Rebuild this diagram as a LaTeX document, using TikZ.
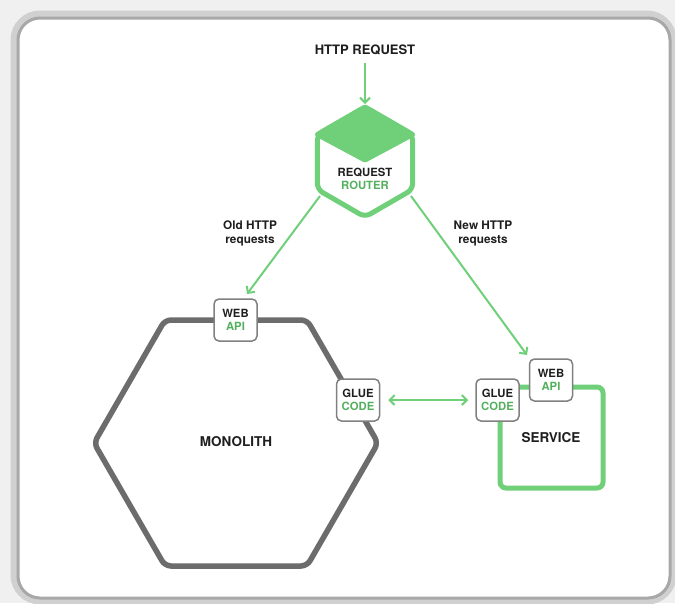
\documentclass[tikz,border=0pt]{standalone}
\usepackage{fontspec}
\setmainfont{TeX Gyre Heros}
\usetikzlibrary{arrows.meta}

\definecolor{linegreen}{RGB}{112,208,122}
\definecolor{textgreen}{RGB}{84,176,94}
\definecolor{hexgray}{RGB}{108,108,108}
\definecolor{boxgray}{RGB}{128,128,128}
\definecolor{ink}{RGB}{30,30,30}
\definecolor{outerbg}{RGB}{240,240,240}
\definecolor{rimlight}{RGB}{208,208,208}
\definecolor{rimdark}{RGB}{168,168,168}

\tikzset{
  lbl/.style={font=\bfseries\fontsize{#1}{#1}\selectfont, text=ink, align=center, inner sep=0pt},
  lbl/.default=11.5,
  twoline/.style={font=\bfseries\fontsize{11.8}{14}\selectfont, text=ink, align=center, inner sep=0pt},
  port/.style={draw=boxgray, line width=1.5pt, fill=white, rounded corners=5pt,
    minimum width=43pt, minimum height=42pt, inner sep=0pt, align=center,
    font=\bfseries\fontsize{11.3}{12.8}\selectfont, text=ink},
  flow/.style={draw=linegreen, line width=2pt, -{Straight Barb[length=5pt,width=10pt]}},
  biflow/.style={draw=linegreen, line width=2pt, {Straight Barb[length=5pt,width=10pt]}-{Straight Barb[length=5pt,width=10pt]}},
  hexline/.style={line width=5.5pt, line join=round, rounded corners=6pt},
}

\begin{document}
\begin{tikzpicture}[x=1pt,y=-1pt]
\useasboundingbox (0,0) rectangle (675,603);

% card and its rim
\fill[outerbg] (0,0) rectangle (675,603);
\draw[rimlight, line width=9pt, rounded corners=25pt] (15,15) rectangle (672,600);
\draw[rimdark, line width=3pt, fill=white, rounded corners=22pt] (18,18) rectangle (670,598);

% incoming request
\node[lbl=13] (req) at (365,50) {HTTP REQUEST};

% request router: pointy-top hexagon with a filled top face
\fill[linegreen, line join=round, draw=linegreen, line width=5pt]
  (365,107) -- (412.6,134.5) -- (365,160) -- (317.4,134.5) -- cycle;
\draw[linegreen, hexline, line width=5pt]
  (365,107) -- (412.6,134.5) -- (412.6,189.5) -- (365,217) -- (317.4,189.5) -- (317.4,134.5) -- cycle;
\node[font=\bfseries\fontsize{11.3}{13}\selectfont, text=ink, align=center, inner sep=0pt]
  (router) at (365,179) {REQUEST\\\textcolor{textgreen}{ROUTER}};
\coordinate (routerTop) at (365,104);
\coordinate (routerSW) at (320,196);
\coordinate (routerSE) at (411,196);

% monolith: flat-top hexagon
\draw[hexgray, hexline]
  (378,443) -- (307,320) -- (165,320) -- (94,443) -- (165,566) -- (307,566) -- cycle;
\node[lbl=13.5] (mono) at (236,442) {MONOLITH};

% new service
\draw[linegreen, line width=5pt, rounded corners=6pt] (500,387) rectangle (603,488);
\node[lbl=13.5] (svc) at (551,438) {SERVICE};

% ports
\node[port] (mweb)  at (235.5,320) {WEB\\\textcolor{textgreen}{API}};
\node[port] (mglue) at (358,400)   {GLUE\\\textcolor{textgreen}{CODE}};
\node[port] (sglue) at (497.5,400) {GLUE\\\textcolor{textgreen}{CODE}};
\node[port] (sweb)  at (551,380)   {WEB\\\textcolor{textgreen}{API}};

\coordinate (oldIn) at (247,294);
\coordinate (newIn) at (527,355);

% routes
\draw[flow] (req) ++(0,13) coordinate (reqOut) -- (routerTop);
\draw[flow] (routerSW) -- (oldIn);
\draw[flow] (routerSE) -- (newIn);
\draw[biflow, shorten <=8pt, shorten >=7pt] (mglue) -- (sglue);

% route labels
\node[twoline] (oldlbl) at (250,233) {Old HTTP\\requests};
\node[twoline] (newlbl) at (483,233) {New HTTP\\requests};
\end{tikzpicture}
\end{document}
